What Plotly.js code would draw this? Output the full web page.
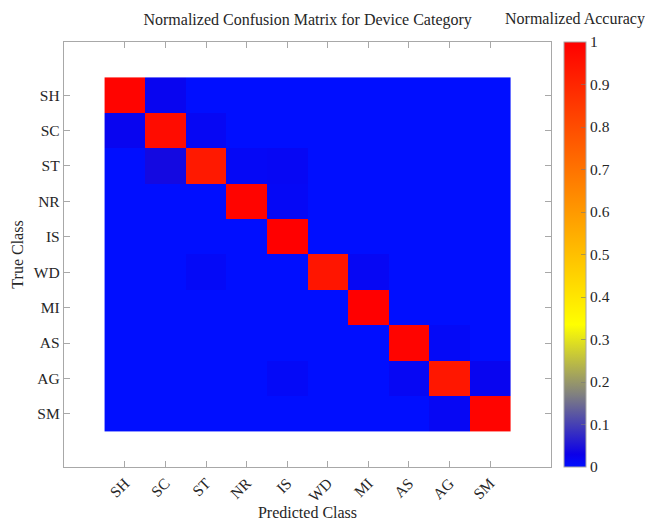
<!DOCTYPE html>
<html>
<head>
<meta charset="utf-8">
<script src="https://cdn.plot.ly/plotly-3.0.1.min.js"></script>
<style>html,body{margin:0;padding:0;background:#fff;}#chart{width:645px;height:521px;}</style>
</head>
<body>
<div id="chart"></div>
<script>
// Class labels (predicted = columns, true = rows)
const predictedClasses = ["SH", "SC", "ST", "NR", "IS", "WD", "MI", "AS", "AG", "SM"];
const trueClasses = ["SH", "SC", "ST", "NR", "IS", "WD", "MI", "AS", "AG", "SM"];

// Normalized confusion matrix rows (true class)
const rowSH = [0.99, 0.02, 0.00, 0.00, 0.00, 0.00, 0.00, 0.00, 0.00, 0.00];
const rowSC = [0.02, 0.97, 0.015, 0.00, 0.00, 0.00, 0.00, 0.00, 0.00, 0.00];
const rowST = [0.00, 0.04, 0.935, 0.012, 0.015, 0.00, 0.00, 0.00, 0.00, 0.00];
const rowNR = [0.00, 0.00, 0.00, 0.99, 0.012, 0.00, 0.00, 0.00, 0.00, 0.00];
const rowIS = [0.00, 0.00, 0.00, 0.00, 1.00, 0.00, 0.00, 0.00, 0.00, 0.00];
const rowWD = [0.00, 0.00, 0.01, 0.00, 0.00, 0.945, 0.015, 0.00, 0.00, 0.00];
const rowMI = [0.00, 0.00, 0.00, 0.00, 0.00, 0.00, 1.00, 0.00, 0.00, 0.00];
const rowAS = [0.00, 0.00, 0.00, 0.00, 0.00, 0.00, 0.00, 0.99, 0.01, 0.00];
const rowAG = [0.00, 0.00, 0.00, 0.00, 0.01, 0.00, 0.00, 0.015, 0.94, 0.02];
const rowSM = [0.00, 0.00, 0.00, 0.00, 0.00, 0.00, 0.00, 0.00, 0.015, 0.99];

const colorbarTicks = [0, 0.1, 0.2, 0.3, 0.4, 0.5, 0.6, 0.7, 0.8, 0.9, 1];
const colorbarTickText = ["0", "0.1", "0.2", "0.3", "0.4", "0.5", "0.6", "0.7", "0.8", "0.9", "1"];

const z = [rowSH, rowSC, rowST, rowNR, rowIS, rowWD, rowMI, rowAS, rowAG, rowSM];

const serif = "Liberation Serif, DejaVu Serif, serif";
const frameColor = "#a8a8a8";
const textColor = "#262626";

const trace = {
  type: "heatmap",
  x: predictedClasses,
  y: trueClasses,
  z: z,
  zmin: 0,
  zmax: 1,
  colorscale: [
    [0, "rgb(0,14,255)"],
    [0.03, "rgb(12,0,232)"],
    [0.17, "rgb(128,128,128)"],
    [0.335, "rgb(255,255,0)"],
    [1, "rgb(255,0,0)"]
  ],
  xgap: 0,
  ygap: 0,
  colorbar: {
    x: 1.027,
    xanchor: "left",
    y: 0,
    yanchor: "bottom",
    len: 1,
    lenmode: "fraction",
    thickness: 22,
    thicknessmode: "pixels",
    outlinewidth: 1,
    outlinecolor: frameColor,
    tickvals: colorbarTicks,
    ticktext: colorbarTickText,
    ticks: "inside",
    ticklen: 5,
    tickcolor: "rgba(120,120,120,0.6)",
    tickfont: {family: serif, size: 15.5, color: textColor},
    xpad: 0,
    ypad: 0
  }
};

const layout = {
  width: 645,
  height: 521,
  margin: {l: 64, r: 94, t: 42, b: 54},
  paper_bgcolor: "#fff",
  plot_bgcolor: "#fff",
  title: {
    text: "Normalized Confusion Matrix for Device Category",
    font: {family: serif, size: 16, color: textColor},
    x: 0.477, xanchor: "center", xref: "container",
    y: 0.963, yanchor: "middle", yref: "container"
  },
  xaxis: {
    type: "category",
    range: [-1.5, 10.5],
    showgrid: false,
    zeroline: false,
    showline: true,
    linecolor: frameColor,
    linewidth: 1.2,
    mirror: "ticks",
    ticks: "inside",
    ticklen: 6,
    tickcolor: frameColor,
    tickangle: -45,
    tickfont: {family: serif, size: 15.5, color: textColor},
    title: {text: "Predicted Class", font: {family: serif, size: 16, color: textColor}, standoff: 8},
    fixedrange: true
  },
  yaxis: {
    type: "category",
    range: [10.5, -1.5],
    showgrid: false,
    zeroline: false,
    showline: true,
    linecolor: frameColor,
    linewidth: 1.2,
    mirror: "ticks",
    ticks: "inside",
    ticklen: 6,
    tickcolor: frameColor,
    tickfont: {family: serif, size: 15.5, color: textColor},
    title: {text: "True Class", font: {family: serif, size: 16, color: textColor}, standoff: 6},
    fixedrange: true
  },
  annotations: [{
    text: "Normalized Accuracy",
    xref: "paper", yref: "paper",
    x: 1.049, y: 1.054,
    xanchor: "center", yanchor: "middle",
    showarrow: false,
    font: {family: serif, size: 16, color: textColor}
  }]
};

Plotly.newPlot("chart", [trace], layout, {displayModeBar: false, staticPlot: true});
</script>
</body>
</html>
